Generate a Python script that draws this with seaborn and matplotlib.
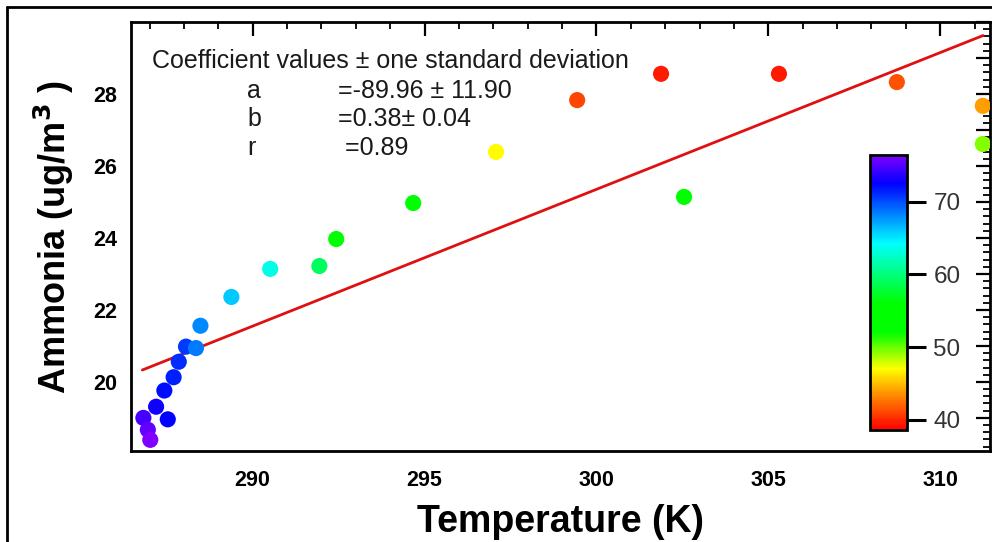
import numpy as np
import pandas as pd
import matplotlib
matplotlib.use("Agg")
import matplotlib.pyplot as plt
import seaborn as sns
from matplotlib.colors import LinearSegmentedColormap, Normalize
from matplotlib.ticker import MultipleLocator, FuncFormatter
from matplotlib.lines import Line2D

# ---- data ----
temperature = [286.82, 286.95, 287.02, 287.19, 287.43, 287.53, 287.70, 287.85,
               288.06, 288.35, 288.48, 289.38, 290.51, 291.94, 292.43, 294.67,
               297.08, 299.44, 301.88, 302.55, 305.31, 308.74, 311.24, 311.24]
ammonia = [19.00, 18.67, 18.39, 19.31, 19.76, 18.96, 20.13, 20.56,
           20.98, 20.94, 21.56, 22.36, 23.14, 23.22, 23.97, 24.97,
           26.39, 27.83, 28.56, 25.14, 28.56, 28.33, 27.67, 26.61]
humidity = [74.5, 75.5, 76.5, 73.0, 72.0, 72.5, 71.5, 71.0,
            70.5, 68.5, 68.0, 66.0, 63.5, 59.0, 56.0, 53.5,
            47.0, 41.0, 39.5, 54.0, 39.5, 41.5, 44.0, 49.5]

fit_a = -88.65
fit_b = 0.38
line_x = [286.79, 311.25]

coef_names = ["a", "b", "r"]
coef_values = ["=-89.96 \u00b1 11.90", "=0.38\u00b1 0.04", " =0.89"]
cbar_ticks = [40, 50, 60, 70]

df = pd.DataFrame({"T": temperature, "A": ammonia, "H": humidity})
line_df = pd.DataFrame({"T": line_x, "A": [fit_a + fit_b * x for x in line_x]})

# ---- style ----
sns.set_theme(style="white")
plt.rcParams["font.family"] = ["Liberation Sans", "DejaVu Sans"]
plt.rcParams["text.color"] = "black"
plt.rcParams["axes.labelcolor"] = "black"
plt.rcParams["xtick.color"] = "black"
plt.rcParams["ytick.color"] = "black"

vmin, vmax = 38.6, 76.4
anchors = [(38.6, "#ff0000"), (43.0, "#ff8000"), (47.0, "#ffff00"),
           (52.0, "#00ff00"), (56.0, "#00ff00"), (64.3, "#00ffff"),
           (72.5, "#0000ff"), (76.4, "#8000ff")]
cmap = LinearSegmentedColormap.from_list(
    "rainbow_ref", [((v - vmin) / (vmax - vmin), c) for v, c in anchors])
norm = Normalize(vmin=vmin, vmax=vmax)

fig = plt.figure(figsize=(9.92, 5.42), dpi=100)
ax = fig.add_axes([131 / 992, 1 - 451 / 542, (990 - 131) / 992, (451 - 22) / 542])

sns.lineplot(data=line_df, x="T", y="A", ax=ax, color="#e01010", lw=2, zorder=2)
sns.scatterplot(data=df, x="T", y="A", hue="H", palette=cmap, hue_norm=norm,
                s=135, marker="o", edgecolor="none", legend=False, ax=ax, zorder=3)

ax.set_xlim(286.46, 311.45)
ax.set_ylim(18.08, 30.0)

ax.xaxis.set_major_locator(MultipleLocator(5))
ax.xaxis.set_minor_locator(MultipleLocator(1))
ax.yaxis.set_major_locator(MultipleLocator(1))
ax.yaxis.set_minor_locator(MultipleLocator(0.2))
ax.yaxis.set_major_formatter(FuncFormatter(
    lambda v, p: f"{int(round(v))}" if (int(round(v)) % 2 == 0 and v < 29.5) else ""))
ax.xaxis.set_major_formatter(FuncFormatter(lambda v, p: f"{int(round(v))}"))

ax.tick_params(axis="both", which="both", direction="in", top=True, right=True,
               color="black")
ax.tick_params(axis="both", which="major", length=10, width=1.6, labelsize=15.5,
               pad=10, labelcolor="black")
ax.tick_params(axis="x", which="major", pad=14)
ax.tick_params(axis="both", which="minor", length=5, width=1.3)
for lbl in ax.get_xticklabels() + ax.get_yticklabels():
    lbl.set_fontweight("bold")
for sp in ax.spines.values():
    sp.set_color("black")
    sp.set_linewidth(2)

ax.set_xlabel("Temperature (K)", fontsize=27, fontweight="bold", labelpad=9)
ax.set_ylabel("Ammonia (ug/m$^{\\mathbf{3}}$ )", fontsize=26, fontweight="bold",
              labelpad=12)

# coefficient text box
txt_kw = dict(transform=fig.transFigure, fontsize=18, color="#1a1a1a", va="center")
ax.text(152 / 992, 1 - 61 / 542, "Coefficient values \u00b1 one standard deviation",
        **txt_kw)
rows_y = [91, 119, 148]
for name, val, yy in zip(coef_names, coef_values, rows_y):
    ax.text(247 / 992, 1 - yy / 542, name, **txt_kw)
    ax.text(338 / 992, 1 - yy / 542, val, **txt_kw)

# colorbar
cax = fig.add_axes([870 / 992, 1 - 430 / 542, 37 / 992, (430 - 155) / 542])
sm = plt.cm.ScalarMappable(cmap=cmap, norm=norm)
sm.set_array([])
cb = fig.colorbar(sm, cax=cax, ticks=cbar_ticks)
cb.outline.set_linewidth(2)
cb.outline.set_edgecolor("black")
cax.tick_params(length=14, width=2.2, labelsize=17.5, labelcolor="#333333", pad=5,
                direction="out", color="black")

# figure frame (left and top edges visible)
fig.add_artist(Line2D([7 / 992, 7 / 992], [0, 1 - 7 / 542],
                      transform=fig.transFigure, color="black", lw=2))
fig.add_artist(Line2D([7 / 992, 1], [1 - 7 / 542, 1 - 7 / 542],
                      transform=fig.transFigure, color="black", lw=2))

fig.savefig("out.png", dpi=100, facecolor="white")
